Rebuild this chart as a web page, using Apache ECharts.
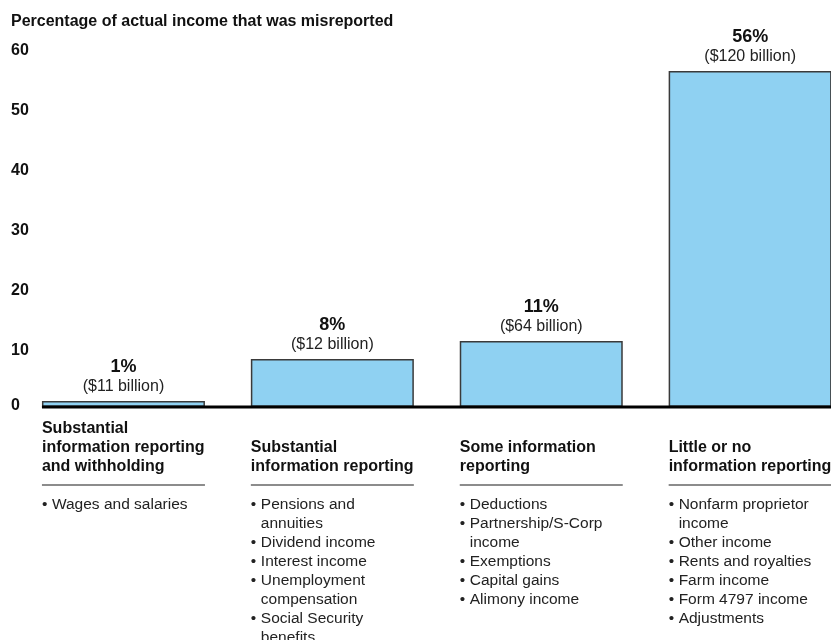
<!DOCTYPE html>
<html><head><meta charset="utf-8">
<script src="https://cdn.jsdelivr.net/npm/echarts@6/dist/echarts.min.js"></script>
<style>html,body{margin:0;padding:0;background:#fff}#c{width:831px;height:640px}</style>
</head><body><div id="c"></div>
<script>
const chartTitle = 'Percentage of actual income that was misreported';
const categories = [
  'Substantial\ninformation reporting\nand withholding',
  'Substantial\ninformation reporting',
  'Some information\nreporting',
  'Little or no\ninformation reporting'
];
const values = [1, 8, 11, 56];
const billions = [11, 12, 64, 120];
const yMin = 0, yMax = 60, yInterval = 10;
const bullets = [
  ['Wages and salaries'],
  ['Pensions and\nannuities', 'Dividend income', 'Interest income', 'Unemployment\ncompensation', 'Social Security\nbenefits'],
  ['Deductions', 'Partnership/S-Corp\nincome', 'Exemptions', 'Capital gains', 'Alimony income'],
  ['Nonfarm proprietor\nincome', 'Other income', 'Rents and royalties', 'Farm income', 'Form 4797 income', 'Adjustments']
];

const FONT = '"Liberation Sans", Arial, sans-serif';
const BAR_W = 163;
const chart = echarts.init(document.getElementById('c'), null, {renderer: 'canvas'});

const yLabelBase = {fontFamily: FONT, fontSize: 16, fontWeight: 'bold', color: '#111'};
chart.setOption({
  animation: false,
  backgroundColor: '#fff',
  title: {
    text: chartTitle, left: 11, top: 14, padding: 0,
    textStyle: {fontFamily: FONT, fontSize: 16, fontWeight: 'bold', color: '#111'}
  },
  grid: {left: 19, right: -23.6, top: 47, bottom: 233, outerBoundsMode: 'none', containLabel: false},
  xAxis: {
    type: 'category', data: categories,
    axisLine: {show: false}, axisTick: {show: false}, axisLabel: {show: false}
  },
  yAxis: {
    type: 'value', min: yMin, max: yMax, interval: yInterval,
    axisLine: {show: false}, axisTick: {show: false}, splitLine: {show: false},
    axisLabel: {
      align: 'left', margin: 8,
      formatter: v => v === 0 ? '{z|0}' : '{n|' + v + '}',
      rich: {
        n: Object.assign({padding: [8, 0, 0, 0]}, yLabelBase),
        z: Object.assign({padding: [0, 0, 2, 0]}, yLabelBase)
      }
    }
  },
  series: [{
    type: 'bar', data: values, barWidth: BAR_W,
    itemStyle: {color: '#8FD1F2', borderColor: '#3a3a3a', borderWidth: 1.5},
    label: {
      show: true, position: 'top', distance: 5,
      formatter: p => '{p|' + values[p.dataIndex] + '%}\n{b|($' + billions[p.dataIndex] + ' billion)}',
      rich: {
        p: {fontFamily: FONT, fontSize: 18, fontWeight: 'bold', color: '#111', lineHeight: 20},
        b: {fontFamily: FONT, fontSize: 16, color: '#222', lineHeight: 19}
      }
    }
  }]
});

const y0 = chart.convertToPixel({yAxisIndex: 0}, 0);
const graphics = [];
const firstLeft = chart.convertToPixel({xAxisIndex: 0}, 0) - BAR_W / 2;
graphics.push({
  type: 'line', z: 10,
  shape: {x1: firstLeft, y1: y0, x2: 831, y2: y0},
  style: {stroke: '#000', lineWidth: 3}
});
categories.forEach((cat, i) => {
  const cx = chart.convertToPixel({xAxisIndex: 0}, i);
  const left = cx - BAR_W / 2;
  graphics.push({
    type: 'text', x: left, y: y0 + 69.5,
    style: {text: cat, font: 'bold 16px ' + FONT, fill: '#111', lineHeight: 19,
            textAlign: 'left', textVerticalAlign: 'bottom'}
  });
  graphics.push({
    type: 'line',
    shape: {x1: left, y1: y0 + 78, x2: left + BAR_W, y2: y0 + 78},
    style: {stroke: '#666', lineWidth: 1.5}
  });
  const bLines = [], tLines = [];
  bullets[i].forEach(item => {
    item.split('\n').forEach((ln, k) => { bLines.push(k === 0 ? '•' : ''); tLines.push(ln); });
  });
  graphics.push({
    type: 'text', x: left, y: y0 + 88.5,
    style: {text: bLines.join('\n'), font: '15.5px ' + FONT, fill: '#222', lineHeight: 19,
            textAlign: 'left', textVerticalAlign: 'top'}
  });
  graphics.push({
    type: 'text', x: left + 10, y: y0 + 88.5,
    style: {text: tLines.join('\n'), font: '15.5px ' + FONT, fill: '#222', lineHeight: 19,
            textAlign: 'left', textVerticalAlign: 'top'}
  });
});
chart.setOption({graphic: graphics});
</script></body></html>
